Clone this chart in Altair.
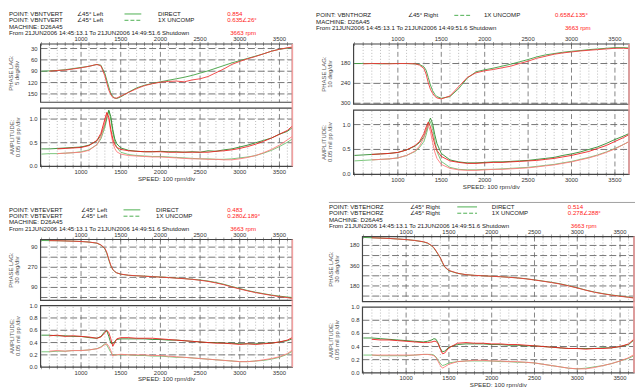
import altair as alt
import pandas as pd

FONT = "Liberation Sans"

# ---------------- data ----------------
SPEED = [500, 600, 700, 800, 900, 1000, 1100, 1200, 1250, 1300, 1325, 1350, 1375, 1400, 1425,
         1450, 1500, 1600, 1700, 1800, 1900, 2000, 2100, 2200, 2300, 2400, 2500, 2600, 2700,
         2800, 2900, 3000, 3100, 3200, 3300, 3400, 3500, 3600, 3663]
N = None

# Top-left: VBNTVERT
TL_PH_G = [90, 89, 88, 86, 83, 80, 77, 72, 74, 96, 114, 132, 148, 157, 161, 162, 158, 145, 134, 127, 122, 118,
           114, 110, 106, 101, 95, 89, 82, 75, 68, 62, 56, 50, 44, 37, 32, 29, 27]
TL_PH_R = [N, 90, 88, 87, 84, 81, 77, 72, 76, 102, 122, 140, 152, 159, 161, 161, 156, 146, 136, 128, 123, 119,
           117, 116, 118, 113, 110, 104, 94, 84, 72, 64, 57, 51, 44, 37, 32, 28, 26]
TL_DIR_G = [0.37, 0.37, 0.38, 0.39, 0.40, 0.41, 0.45, 0.54, 0.66, 0.88, 1.05, 1.19, 1.05, 0.78, 0.58, 0.48, 0.39,
            0.34, 0.32, 0.31, 0.31, 0.32, 0.31, 0.31, 0.30, 0.31, 0.30, 0.33, 0.32, 0.35, 0.37, 0.41, 0.45, 0.50,
            0.55, 0.60, 0.68, 0.74, 0.82]
TL_DIR_R = [N, N, 0.37, 0.38, 0.39, 0.40, 0.44, 0.55, 0.70, 1.00, 1.14, 1.04, 0.78, 0.58, 0.46, 0.40, 0.36, 0.33,
            0.32, 0.31, 0.31, 0.31, 0.30, 0.30, 0.30, 0.30, 0.30, 0.30, 0.32, 0.33, 0.35, 0.38, 0.42, 0.47, 0.53,
            0.60, 0.68, 0.76, 0.854]
TL_1X_G = [0.26, 0.27, 0.27, 0.28, 0.29, 0.31, 0.35, 0.46, 0.58, 0.82, 1.00, 1.17, 1.00, 0.72, 0.52, 0.40, 0.30,
           0.25, 0.23, 0.22, 0.21, 0.21, 0.20, 0.19, 0.18, 0.17, 0.16, 0.16, 0.15, 0.15, 0.16, 0.18, 0.20, 0.23,
           0.28, 0.34, 0.42, 0.51, 0.58]
TL_1X_R = [N, N, 0.27, 0.28, 0.29, 0.30, 0.34, 0.46, 0.62, 0.92, 1.10, 1.00, 0.72, 0.50, 0.38, 0.31, 0.26, 0.23,
           0.22, 0.21, 0.20, 0.20, 0.19, 0.18, 0.17, 0.16, 0.16, 0.15, 0.15, 0.14, 0.14, 0.16, 0.19, 0.23, 0.29,
           0.36, 0.45, 0.56, 0.635]

# Top-right: VBNTHORZ
TR_PH_G = [180, 180, 180, 181, 180, 180, 180, 181, 183, 190, 200, 222, 245, 262, 273, 280, 285, 280, 256, 224,
           205, 199, 194, 188, 182, 175, 168, 160, 154, 150, 146, 143, 141, 138, 136, 134, 132, 132, 133]
TR_PH_R = [N, 181, 180, 180, 181, 180, 180, 181, 185, 195, 212, 238, 258, 270, 279, 284, 287, 278, 250, 222,
           208, 202, 198, 193, 188, 180, 173, 164, 158, 152, 148, 145, 142, 140, 138, 136, 134, 134, 135]
TR_DIR_G = [0.38, 0.39, 0.40, 0.41, 0.42, 0.44, 0.49, 0.57, 0.64, 0.76, 0.87, 1.02, 1.13, 1.02, 0.80, 0.62, 0.42,
            0.29, 0.25, 0.23, 0.23, 0.24, 0.25, 0.25, 0.26, 0.27, 0.28, 0.30, 0.32, 0.34, 0.38, 0.41, 0.45, 0.50,
            0.55, 0.62, 0.70, 0.77, 0.82]
TR_DIR_R = [N, N, 0.40, 0.41, 0.42, 0.44, 0.49, 0.58, 0.66, 0.82, 0.95, 1.05, 0.96, 0.78, 0.60, 0.48, 0.36, 0.27,
            0.24, 0.22, 0.22, 0.23, 0.24, 0.24, 0.25, 0.26, 0.27, 0.28, 0.30, 0.32, 0.35, 0.38, 0.42, 0.46, 0.52,
            0.58, 0.66, 0.74, 0.80]
TR_1X_G = [0.27, 0.28, 0.29, 0.30, 0.31, 0.33, 0.38, 0.46, 0.54, 0.66, 0.79, 0.96, 1.06, 0.92, 0.68, 0.46, 0.26,
           0.14, 0.10, 0.09, 0.09, 0.10, 0.10, 0.11, 0.12, 0.13, 0.14, 0.16, 0.18, 0.20, 0.23, 0.26, 0.30, 0.34,
           0.39, 0.45, 0.52, 0.60, 0.66]
TR_1X_R = [N, N, 0.29, 0.30, 0.31, 0.33, 0.38, 0.47, 0.57, 0.74, 0.88, 1.00, 0.86, 0.64, 0.45, 0.32, 0.20, 0.12,
           0.09, 0.08, 0.08, 0.09, 0.10, 0.10, 0.11, 0.12, 0.13, 0.15, 0.17, 0.19, 0.22, 0.25, 0.29, 0.33, 0.38,
           0.44, 0.51, 0.60, 0.658]

# Bottom-left: VBTEVERT
BL_PH_G = [31, 32, 33, 35, 37, 40, 45, 55, 72, 105, 148, 205, 258, 290, 310, 320, 332, 342, 346, 349, 353, 357,
           361, 366, 371, 377, 384, 393, 406, 422, 442, 460, 478, 493, 506, 518, 528, 536, 540]
BL_PH_R = [N, 32, 33, 35, 37, 40, 45, 54, 70, 100, 140, 198, 252, 288, 308, 320, 331, 341, 346, 350, 354, 358,
           362, 367, 372, 378, 386, 396, 410, 426, 446, 464, 481, 496, 509, 521, 532, 541, 549]
BL_DIR_G = [0.52, 0.52, 0.51, 0.51, 0.50, 0.50, 0.48, 0.47, 0.50, 0.58, 0.59, 0.50, 0.39, 0.38, 0.42, 0.45, 0.46,
            0.46, 0.46, 0.46, 0.45, 0.45, 0.44, 0.44, 0.43, 0.42, 0.41, 0.40, 0.40, 0.39, 0.39, 0.38, 0.38, 0.38,
            0.39, 0.39, 0.41, 0.43, 0.46]
BL_DIR_R = [N, 0.51, 0.52, 0.50, 0.51, 0.50, 0.49, 0.47, 0.49, 0.56, 0.60, 0.56, 0.46, 0.34, 0.40, 0.46, 0.48,
            0.48, 0.47, 0.47, 0.47, 0.46, 0.45, 0.44, 0.43, 0.42, 0.41, 0.40, 0.39, 0.39, 0.38, 0.37, 0.38, 0.37,
            0.38, 0.39, 0.41, 0.44, 0.483]
BL_1X_G = [0.25, 0.25, 0.26, 0.26, 0.27, 0.27, 0.28, 0.30, 0.33, 0.38, 0.36, 0.30, 0.24, 0.20, 0.20, 0.20, 0.20,
           0.20, 0.19, 0.19, 0.18, 0.18, 0.17, 0.16, 0.16, 0.15, 0.14, 0.13, 0.12, 0.11, 0.10, 0.09, 0.09, 0.10,
           0.11, 0.13, 0.16, 0.21, 0.26]
BL_1X_R = [N, 0.26, 0.27, 0.26, 0.27, 0.27, 0.28, 0.30, 0.32, 0.37, 0.38, 0.34, 0.27, 0.18, 0.20, 0.20, 0.21,
           0.20, 0.20, 0.20, 0.19, 0.19, 0.18, 0.17, 0.16, 0.15, 0.14, 0.13, 0.12, 0.11, 0.10, 0.09, 0.09, 0.10,
           0.12, 0.14, 0.17, 0.22, 0.28]

# Bottom-right: VBTEHORZ
BR_PH_G = [109, 112, 115, 118, 123, 128, 136, 148, 160, 185, 205, 232, 262, 292, 335, 372, 405, 428, 440, 446,
           450, 454, 458, 462, 468, 476, 486, 497, 508, 521, 538, 556, 577, 594, 608, 620, 630, 639, 645]
BR_PH_R = [N, 112, 115, 118, 123, 128, 136, 147, 158, 182, 200, 228, 258, 290, 330, 368, 402, 427, 440, 446,
           450, 454, 458, 463, 469, 477, 487, 498, 510, 523, 540, 558, 578, 596, 610, 622, 632, 641, 648]
BR_DIR_G = [0.53, 0.53, 0.52, 0.51, 0.50, 0.49, 0.48, 0.47, 0.48, 0.50, 0.52, 0.51, 0.45, 0.37, 0.32, 0.33, 0.39,
            0.43, 0.44, 0.44, 0.44, 0.43, 0.43, 0.42, 0.42, 0.41, 0.41, 0.40, 0.39, 0.38, 0.37, 0.37, 0.37, 0.37,
            0.38, 0.38, 0.40, 0.43, 0.50]
BR_DIR_R = [N, 0.51, 0.50, 0.50, 0.49, 0.48, 0.47, 0.46, 0.46, 0.47, 0.48, 0.48, 0.44, 0.36, 0.29, 0.30, 0.38,
            0.45, 0.46, 0.45, 0.45, 0.44, 0.44, 0.43, 0.43, 0.42, 0.41, 0.40, 0.39, 0.38, 0.37, 0.37, 0.36, 0.37,
            0.37, 0.38, 0.40, 0.44, 0.514]
BR_1X_G = [0.27, 0.27, 0.26, 0.26, 0.26, 0.26, 0.27, 0.28, 0.28, 0.28, 0.27, 0.24, 0.19, 0.14, 0.11, 0.12, 0.15,
           0.17, 0.18, 0.18, 0.18, 0.18, 0.17, 0.17, 0.16, 0.16, 0.15, 0.13, 0.11, 0.09, 0.07, 0.06, 0.07, 0.09,
           0.11, 0.14, 0.18, 0.22, 0.26]
BR_1X_R = [N, 0.27, 0.27, 0.27, 0.27, 0.27, 0.27, 0.28, 0.28, 0.27, 0.26, 0.23, 0.17, 0.11, 0.07, 0.09, 0.13,
           0.17, 0.18, 0.19, 0.19, 0.18, 0.18, 0.17, 0.17, 0.16, 0.15, 0.13, 0.11, 0.09, 0.07, 0.06, 0.06, 0.08,
           0.11, 0.14, 0.18, 0.23, 0.278]

X_TICK_LABELS = [1000, 1500, 2000, 2500, 3000, 3500]
TL_PH_TICKS = [30, 60, 90, 120, 150]
TR_PH_TICKS = [180, 240, 300]
BL_PH_TICKS = [90, 180, 270, 360, 450, 540]
BL_PH_LABELS = {90: "90", 270: "270", 450: "90"}
BR_PH_TICKS = [180, 270, 360, 450, 540, 630]
BR_PH_LABELS = {180: "180", 360: "360", 540: "180"}
AMP_TICKS_A = [0.5, 1.0]
AMP_LABELS_A = {0.0: "0.0", 0.5: "0.5", 1.0: "1.0"}
AMP_TICKS_B = [0.2, 0.4, 0.6, 0.8]
AMP_LABELS_B = {0.0: "0.0", 0.2: "0.2", 0.4: "0.4", 0.6: "0.6", 0.8: "0.8", 1.0: "1.0"}

XDOM = [490, 3663]
RUNOUT = 3663

C_GD, C_RD = "#2c8a2c", "#ee2020"      # direct
C_GX, C_RX = "#6cc06c", "#ff7a7a"      # 1X
C_GP, C_RP = "#3f9f3f", "#f03838"      # phase
GRID = "#666666"
FRAME = "#444444"
HFS = 6.2   # header font size
TFS = 6.0   # tick label font size
LS = 6.4    # header line spacing


def series_df(vals):
    return pd.DataFrame([{"rpm": s, "val": v} for s, v in zip(SPEED, vals) if v is not None])


def panel(xr, yr, ydom, curves, hgrid, ylabels, xlabel_edge, speed_title=False, cursor_top=None):
    xs = alt.Scale(domain=XDOM, range=xr, nice=False, zero=False)
    ys = alt.Scale(domain=ydom, range=yr, nice=False, zero=False)

    def X(f):
        return alt.X(f, type="quantitative", scale=xs, axis=None)

    def Y(f):
        return alt.Y(f, type="quantitative", scale=ys, axis=None)

    lo, hi = min(ydom), max(ydom)
    layers = []
    minor = [r for r in range(600, 3700, 100) if r % 500]
    dfm = pd.DataFrame({"rpm": minor, "y0": lo, "y1": hi})
    layers.append(alt.Chart(dfm).mark_rule(color="#9c9c9c", strokeWidth=0.7, strokeDash=[1, 2])
                  .encode(x=X("rpm"), y=Y("y0"), y2="y1"))
    dfj = pd.DataFrame({"rpm": X_TICK_LABELS, "y0": lo, "y1": hi})
    layers.append(alt.Chart(dfj).mark_rule(color=GRID, strokeWidth=0.8, strokeDash=[5, 3])
                  .encode(x=X("rpm"), y=Y("y0"), y2="y1"))
    dfh = pd.DataFrame({"val": hgrid, "x0": XDOM[0], "x1": XDOM[1]})
    layers.append(alt.Chart(dfh).mark_rule(color=GRID, strokeWidth=0.9, strokeDash=[7, 3])
                  .encode(x=X("x0"), x2="x1", y=Y("val")))
    # edge ticks every 100 rpm
    dft = pd.DataFrame({"rpm": list(range(500, 3700, 100)), "ye": xlabel_edge})
    layers.append(alt.Chart(dft).mark_tick(orient="vertical", size=4, thickness=0.7, color=FRAME)
                  .encode(x=X("rpm"), y=Y("ye")))
    # frame
    dff = pd.DataFrame({"x0": [XDOM[0]], "x1": [XDOM[1]], "y0": [lo], "y1": [hi]})
    layers.append(alt.Chart(dff).mark_rect(fillOpacity=0, stroke=FRAME, strokeWidth=1.2)
                  .encode(x=X("x0"), x2="x1", y=Y("y0"), y2="y1"))
    # curves
    for vals, col in curves:
        layers.append(alt.Chart(series_df(vals)).mark_line(color=col, strokeWidth=0.9, interpolate="linear")
                      .encode(x=X("rpm"), y=Y("val")))
    # run-out cursor
    dfr = pd.DataFrame({"rpm": [RUNOUT], "y0": [lo], "y1": [hi if cursor_top is None else cursor_top]})
    layers.append(alt.Chart(dfr).mark_rule(color="#f2a0a0", strokeWidth=1.6)
                  .encode(x=X("rpm"), y=Y("y0"), y2="y1"))
    # y labels
    dfl = pd.DataFrame({"val": list(ylabels.keys()), "txt": list(ylabels.values()), "x0": XDOM[0]})
    layers.append(alt.Chart(dfl).mark_text(align="right", baseline="middle", dx=-3, fontSize=TFS,
                                           font=FONT, color="#333")
                  .encode(x=X("x0"), y=Y("val"), text="txt"))
    # x labels
    top = xlabel_edge == (ydom[0] if yr[0] < yr[1] else ydom[1])
    dfx = pd.DataFrame({"rpm": X_TICK_LABELS, "ye": xlabel_edge, "txt": [str(v) for v in X_TICK_LABELS]})
    layers.append(alt.Chart(dfx).mark_text(baseline="middle", dy=-4.6 if top else 5.6, fontSize=TFS,
                                           font=FONT, color="#333")
                  .encode(x=X("rpm"), y=Y("ye"), text="txt"))
    if speed_title:
        dfs = pd.DataFrame({"rpm": [(XDOM[0] + XDOM[1]) / 2], "ye": [xlabel_edge], "txt": ["SPEED: 100 rpm/div"]})
        layers.append(alt.Chart(dfs).mark_text(baseline="middle", dy=12.4, fontSize=6.3, font=FONT,
                                               color="#333")
                      .encode(x=X("rpm"), y=Y("ye"), text="txt"))
    return alt.layer(*layers)


ONE = pd.DataFrame({"a": [0]})


def txt(s, x, y, color="#222", angle=0, fs=HFS):
    kw = dict(align="left", baseline="middle", fontSize=fs, font=FONT, color=color)
    if angle:
        kw["angle"] = angle
        kw["align"] = "center"
    return alt.Chart(ONE).mark_text(text=s, **kw).encode(x=alt.value(x), y=alt.value(y))


def legline(x0, x1, y, dashed):
    kw = dict(color="#4caf50", strokeWidth=1)
    if dashed:
        kw["strokeDash"] = [4, 2]
    return alt.Chart(ONE).mark_rule(**kw).encode(x=alt.value(x0), x2=alt.value(x1), y=alt.value(y))


def header(point, side, xs, y_first, direct_val, x_val, with_first=True):
    # xs: [point, angle, leg0, leg1, label, value, rpm]
    if with_first:
        ys = [y_first + i * LS for i in range(4)]
        rows = [(ys[0], "DIRECT", direct_val, False), (ys[1], "1X UNCOMP", x_val, True)]
    else:
        ys = [None, y_first, y_first + LS, y_first + 2 * LS]
        rows = [(ys[1], "1X UNCOMP", x_val, True)]
    out = []
    for y, lab, val, dashed in rows:
        out += [txt("POINT: " + point, xs[0], y), txt("\u222045\u00b0 " + side, xs[1], y),
                legline(xs[2], xs[3], y, dashed), txt(lab, xs[4], y), txt(val, xs[5], y, color="#ff2020")]
    out.append(txt("MACHINE: D26A45", xs[0], ys[2]))
    out.append(txt("From 21JUN2006 14:45:13.1 To 21JUN2006 14:49:51.6 Shutdown", xs[0], ys[3]))
    out.append(txt("3663 rpm", xs[6], ys[3], color="#ff2020"))
    return out


panels = []
# ---- top-left
panels.append(panel([33, 288], [34, 93], [18, 172],
                    [(TL_PH_G, C_GP), (TL_PH_R, C_RP)], TL_PH_TICKS,
                    {v: str(v) for v in TL_PH_TICKS}, 18))
panels.append(panel([33, 288], [158, 99], [0, 1.23],
                    [(TL_1X_G, C_GX), (TL_DIR_G, C_GD), (TL_1X_R, C_RX), (TL_DIR_R, C_RD)], AMP_TICKS_A,
                    AMP_LABELS_A, 0, True, cursor_top=1.36))
# ---- top-right
panels.append(panel([350, 629], [34, 95], [121, 303],
                    [(TR_PH_G, C_GP), (TR_PH_R, C_RP)], TR_PH_TICKS,
                    {v: str(v) for v in TR_PH_TICKS}, 121))
panels.append(panel([350, 629], [166, 101], [0, 1.29],
                    [(TR_1X_G, C_GX), (TR_DIR_G, C_GD), (TR_1X_R, C_RX), (TR_DIR_R, C_RD)], AMP_TICKS_A,
                    AMP_LABELS_A, 0, True, cursor_top=1.41))
# ---- bottom-left
panels.append(panel([33, 288], [232, 293.7], [22, 566],
                    [(BL_PH_G, C_GP), (BL_PH_R, C_RP)], BL_PH_TICKS, BL_PH_LABELS, 22))
panels.append(panel([33, 288], [361.3, 299], [0, 1.0],
                    [(BL_1X_G, C_GX), (BL_DIR_G, C_GD), (BL_1X_R, C_RX), (BL_DIR_R, C_RD)], AMP_TICKS_B,
                    AMP_LABELS_B, 0, True, cursor_top=1.085))
# ---- bottom-right
panels.append(panel([359, 634], [229, 295], [101, 680],
                    [(BR_PH_G, C_GP), (BR_PH_R, C_RP)], BR_PH_TICKS, BR_PH_LABELS, 101))
panels.append(panel([359, 634], [367, 300.5], [0, 1.0],
                    [(BR_1X_G, C_GX), (BR_DIR_G, C_GD), (BR_1X_R, C_RX), (BR_DIR_R, C_RD)], AMP_TICKS_B,
                    AMP_LABELS_B, 0, True, cursor_top=1.083))

ann = []
ann += header("VBNTVERT", "Left", [1, 70, 118, 135, 152, 222, 225], 3.6, "0.854", "0.635\u222026\u00b0")
ann += header("VBNTHORZ", "Right", [312, 405, 452, 470, 482, 554, 564], 5.0, "0.654",
              "0.658\u2220135\u00b0", with_first=False)
ann += header("VBTEVERT", "Left", [1, 74, 117, 134, 150, 222, 225], 202.0, "0.483", "0.280\u2220189\u00b0")
ann += header("VBTEHORZ", "Right", [325, 407, 455, 475, 490, 567, 570], 199.0, "0.514",
              "0.278\u2220288\u00b0")
ann.append(alt.Chart(ONE).mark_rule(color="#888", strokeWidth=0.8)
           .encode(x=alt.value(325), x2=alt.value(635), y=alt.value(194.5)))

# axis titles (two rotated lines each)
for (x1, x2, yc, t1, t2) in [
    (3, 9.6, 63.5, "PHASE LAG:", "5 deg/div"),
    (4, 10.6, 128.5, "AMPLITUDE:", "0.05 mil pp /div"),
    (320, 326.6, 64.5, "PHASE LAG:", "10 deg/div"),
    (320, 326.6, 133.5, "AMPLITUDE:", "0.05 mil pp /div"),
    (3, 9.6, 263, "PHASE LAG:", "30 deg/div"),
    (4, 10.6, 330, "AMPLITUDE:", "0.05 mil pp /div"),
    (327, 333.6, 262, "PHASE LAG:", "30 deg/div"),
    (327, 333.6, 334, "AMPLITUDE:", "0.05 mil pp /div"),
]:
    ann.append(txt(t1, x1, yc, color="#555", angle=270, fs=6))
    ann.append(txt(t2, x2, yc, color="#555", angle=270, fs=6))

chart = (alt.layer(*panels, *ann)
         .resolve_scale(x="independent", y="independent")
         .properties(width=635, height=384, padding=0, autosize=alt.AutoSizeParams(type="none"),
                     background="white")
         .configure_view(stroke=None))

chart.save("out.html", embed_options={"renderer": "svg", "actions": False})
